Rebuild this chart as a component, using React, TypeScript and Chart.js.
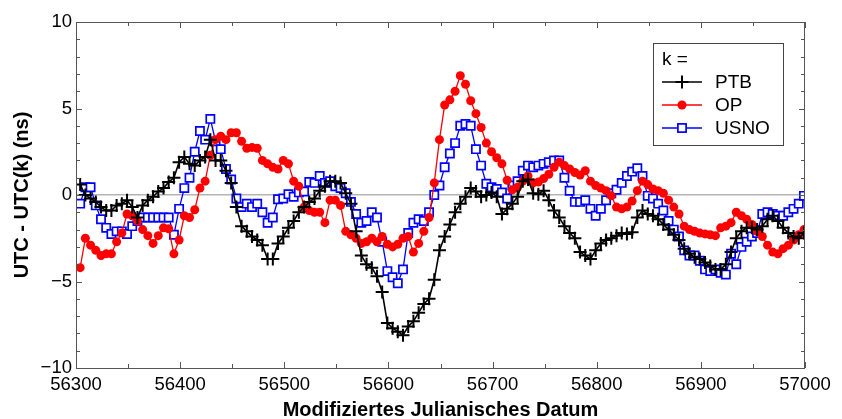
import React, { useEffect, useRef } from 'react';
import { Chart, registerables } from 'chart.js';

Chart.register(...registerables);

// ---- data (MJD grid: first sample day, spacing in days) ----
const FIRST_DAY = 56304;
const DAY_STEP = 5;

const ptbValues = [
  0.6, 0.0, -0.2, -0.4, -0.7, -0.9, -0.9, -0.6, -0.5, -0.3,
  -0.7, -1.3, -0.6, -0.3, -0.1, 0.2, 0.4, 0.75, 1.0, 1.9,
  2.2, 1.8, 1.7, 2.0, 2.2, 3.2, 2.0, 2.0, 1.4, 0.7,
  -0.7, -1.8, -2.1, -2.4, -2.6, -2.9, -3.7, -3.7, -2.8, -2.4,
  -1.9, -1.5, -1.0, -0.7, -0.4, -0.2, 0.25, 0.5, 0.8, 0.8,
  0.7, 0.1, -0.5, -2.1, -3.5, -4.0, -4.2, -4.7, -5.6, -7.4,
  -7.7, -7.9, -8.1, -7.6, -7.3, -6.8, -6.3, -6.0, -4.9, -3.2,
  -2.4, -1.7, -1.0, -0.5, -0.1, 0.4, 0.2, -0.1, 0.0, 0.15,
  -0.1, -1.1, -0.8, -0.5, -0.1, 0.8, 0.9, 0.1, 0.05, 0.25,
  -0.3, -0.9, -1.3, -1.8, -2.2, -2.5, -3.3, -3.5, -3.7, -3.2,
  -2.8, -2.6, -2.5, -2.35, -2.2, -2.25, -2.15, -1.3, -0.9, -1.1,
  -1.2, -1.4, -1.7, -2.0, -2.3, -2.6, -3.1, -3.4, -3.6, -3.7,
  -3.9, -4.1, -4.3, -4.3, -4.0, -3.3, -2.5, -2.1, -1.9, -1.9,
  -2.0, -1.8, -1.4, -1.2, -1.5, -1.9, -2.2, -2.4, -2.5, -2.2,
];

const opValues = [
  -4.2, -2.5, -2.9, -3.2, -3.5, -3.4, -3.4, -2.7, -2.2, -1.1,
  -1.2, -1.5, -2.0, -2.35, -2.8, -2.35, -1.9, -1.95, -3.4, -2.6,
  -1.2, -1.3, -0.85, 0.4, 0.8, 2.3, 3.2, 3.4, 3.2, 3.6,
  3.6, 3.1, 2.7, 2.75, 2.7, 2.0, 1.8, 1.6, 1.5, 2.0,
  1.8, 0.8, 0.5, -0.7, -0.9, -1.0, -1.0, -1.6, -0.3, -0.3,
  -0.6, -2.1, -2.3, -2.5, -2.8, -2.7, -2.5, -2.7, -2.4, -2.85,
  -3.0, -2.85, -2.5, -2.4, -3.3, -2.8, -2.1, -1.3, 0.7, 3.2,
  5.2, 5.5, 6.0, 6.9, 6.4, 5.45, 4.7, 3.9, 3.0, 2.5,
  2.15, 1.8, 0.85, 0.3, 0.45, 0.8, 1.1, 0.7, 0.75, 0.95,
  1.2, 1.6, 1.9, 1.7, 1.5, 1.3, 1.15, 1.4, 0.8, 0.55,
  0.4, 0.25, -0.05, -0.7, -0.8, -0.7, -0.35, 0.25, 0.8, 0.6,
  0.35, 0.25, 0.1, -0.3, -0.7, -1.1, -1.8, -2.0, -2.1, -2.2,
  -2.25, -2.3, -2.35, -1.9, -1.8, -1.6, -1.0, -1.2, -1.4, -1.7,
  -2.1, -2.4, -2.9, -3.3, -3.4, -3.1, -2.9, -2.6, -2.3, -2.0,
];

const usnoValues = [
  -0.5, 0.45, 0.45, -0.6, -1.4, -1.9, -2.25, -2.1, -2.1, -2.25,
  -1.8, -1.5, -1.3, -1.3, -1.3, -1.3, -1.3, -1.3, -2.3, -0.8,
  0.4, 1.0, 2.5, 3.7, 3.2, 4.4, 3.1, 2.65, 1.5, 0.9,
  -0.2, -0.7, -0.5, -0.7, -0.5, -1.0, -1.6, -1.3, -0.25, -0.2,
  0.05, -0.1, 0.15, 0.2, 0.75, 0.7, 1.1, 0.7, 0.8, 0.5,
  0.4, 0.1, -0.4, -1.1, -1.6, -1.5, -1.0, -1.3, -2.7, -4.4,
  -4.75, -5.1, -4.3, -2.2, -1.6, -1.4, -1.5, -1.0, 0.0, 0.55,
  1.6, 2.4, 3.0, 4.0, 4.1, 4.0, 2.65, 1.7, 0.65, 0.45,
  0.35, 0.15, -0.2, 0.55, 0.8, 1.4, 1.7, 1.6, 1.7, 1.8,
  1.9, 2.0, 2.0, 1.0, 0.25, -0.4, -0.4, -0.3, -0.8, -1.2,
  -0.8, -0.3, 0.1, 0.3, 0.7, 1.1, 1.35, 1.55, 1.1, -0.05,
  -0.2, -0.5, -0.9, -1.5, -2.0, -2.4, -3.2, -3.5, -3.5, -3.8,
  -4.3, -4.4, -4.3, -4.5, -4.6, -3.4, -4.0, -3.0, -2.7, -2.4,
  -2.2, -1.1, -1.0, -1.1, -1.2, -1.2, -1.0, -0.8, -0.5, -0.05,
];

const days = ptbValues.map((_, i) => FIRST_DAY + i * DAY_STEP);

const seriesNames = ['PTB', 'OP', 'USNO'];
const legendTitle = 'k =';
const xAxisTitle = 'Modifiziertes Julianisches Datum';
const yAxisTitle = 'UTC - UTC(k) (ns)';
const xRange = [56300, 57000];
const yRange = [-10, 10];

const FONT = 'Arial, "Liberation Sans", sans-serif';

const toPoints = (vals: number[]) => vals.map((v, i) => ({ x: days[i], y: v }));

const framePlugin = {
  id: 'frameTicksLegend',
  afterDraw(chart: any) {
    const ctx = chart.ctx;
    const { left, right, top, bottom } = chart.chartArea;
    const xs = chart.scales.x;
    const ys = chart.scales.y;
    ctx.save();
    ctx.strokeStyle = '#555';
    ctx.lineWidth = 1;
    ctx.strokeRect(left + 0.5, top + 0.5, right - left - 1, bottom - top);
    ctx.beginPath();
    for (let v = xRange[0]; v <= xRange[1]; v += 50) {
      const px = Math.round(xs.getPixelForValue(v)) + 0.5;
      const len = v % 100 === 0 ? 6 : 4;
      ctx.moveTo(px, bottom);
      ctx.lineTo(px, bottom - len);
      ctx.moveTo(px, top);
      ctx.lineTo(px, top + len);
    }
    for (let v = yRange[0]; v <= yRange[1]; v += 1) {
      const py = Math.round(ys.getPixelForValue(v)) + 0.5;
      const len = v % 5 === 0 ? 6 : 4;
      ctx.moveTo(left, py);
      ctx.lineTo(left + len, py);
      ctx.moveTo(right, py);
      ctx.lineTo(right - len, py);
    }
    ctx.stroke();

    // legend box
    const bw = 130;
    const bh = 102;
    const bx = right - 22 - bw;
    const by = top + 21;
    ctx.fillStyle = '#fff';
    ctx.fillRect(bx, by, bw, bh);
    ctx.strokeStyle = '#444';
    ctx.lineWidth = 1;
    ctx.strokeRect(bx + 0.5, by + 0.5, bw, bh);
    ctx.fillStyle = '#000';
    ctx.font = `19px ${FONT}`;
    ctx.textBaseline = 'middle';
    ctx.textAlign = 'left';
    ctx.fillText(legendTitle, bx + 9, by + 17);
    chart.data.datasets.forEach((ds: any, i: number) => {
      const y = by + 39 + i * 23;
      const x0 = bx + 9;
      const x1 = bx + 49;
      const cx = bx + 29;
      ctx.strokeStyle = ds.borderColor;
      ctx.lineWidth = ds.borderWidth;
      ctx.beginPath();
      ctx.moveTo(x0, y);
      ctx.lineTo(x1, y);
      ctx.stroke();
      const r = ds.pointRadius;
      ctx.lineWidth = ds.pointBorderWidth;
      if (ds.pointStyle === 'cross') {
        ctx.beginPath();
        ctx.moveTo(cx - r, y);
        ctx.lineTo(cx + r, y);
        ctx.moveTo(cx, y - r);
        ctx.lineTo(cx, y + r);
        ctx.stroke();
      } else if (ds.pointStyle === 'circle') {
        ctx.fillStyle = ds.pointBackgroundColor;
        ctx.beginPath();
        ctx.arc(cx, y, r, 0, Math.PI * 2);
        ctx.fill();
      } else {
        const s = r * Math.SQRT1_2;
        ctx.fillStyle = ds.pointBackgroundColor;
        ctx.fillRect(cx - s, y - s, 2 * s, 2 * s);
        ctx.strokeRect(cx - s, y - s, 2 * s, 2 * s);
      }
      ctx.fillStyle = '#000';
      ctx.fillText(ds.label, bx + 62, y + 1);
    });
    ctx.restore();
  },
};

export default function App() {
  const canvasRef = useRef<HTMLCanvasElement | null>(null);

  useEffect(() => {
    document.body.style.margin = '0';
    const canvas = canvasRef.current;
    if (!canvas) return;
    const chart = new Chart(canvas, {
      type: 'line',
      data: {
        datasets: [
          {
            label: seriesNames[0],
            data: toPoints(ptbValues),
            borderColor: '#000000',
            backgroundColor: '#000000',
            borderWidth: 1.6,
            pointStyle: 'cross',
            pointRadius: 6.5,
            pointBorderWidth: 2,
            pointBorderColor: '#000000',
            pointBackgroundColor: '#000000',
            tension: 0,
          },
          {
            label: seriesNames[1],
            data: toPoints(opValues),
            borderColor: '#ff0000',
            backgroundColor: '#ff0000',
            borderWidth: 1.3,
            pointStyle: 'circle',
            pointRadius: 4.5,
            pointBorderWidth: 0,
            pointBorderColor: '#ff0000',
            pointBackgroundColor: '#ff0000',
            tension: 0,
          },
          {
            label: seriesNames[2],
            data: toPoints(usnoValues),
            borderColor: '#0000ff',
            backgroundColor: '#ffffff',
            borderWidth: 1.3,
            pointStyle: 'rect',
            pointRadius: 5.8,
            pointBorderWidth: 1.7,
            pointBorderColor: '#0000ff',
            pointBackgroundColor: '#ffffff',
            tension: 0,
          },
        ],
      } as any,
      options: {
        animation: false,
        responsive: false,
        devicePixelRatio: 1,
        layout: { padding: { left: 0, right: 37, top: 22, bottom: 0 } },
        plugins: {
          legend: { display: false },
          tooltip: { enabled: false },
        },
        scales: {
          x: {
            type: 'linear',
            min: xRange[0],
            max: xRange[1],
            afterFit: (s: any) => { s.height = 51; },
            grid: { display: false, drawTicks: false },
            border: { display: false },
            ticks: {
              stepSize: 100,
              autoSkip: false,
              maxRotation: 0,
              padding: 6,
              color: '#000',
              font: { family: FONT, size: 18.5 },
              callback: (v: any) => String(v),
            },
            title: {
              display: true,
              text: xAxisTitle,
              color: '#000',
              font: { family: FONT, size: 20, weight: 'bold' },
              padding: { top: 0, bottom: -3 },
            },
          },
          y: {
            type: 'linear',
            min: yRange[0],
            max: yRange[1],
            afterFit: (s: any) => { s.width = 76; },
            grid: {
              drawTicks: false,
              color: (c: any) => (c.tick && c.tick.value === 0 ? '#b4b4b4' : 'rgba(0,0,0,0)'),
              lineWidth: 1.6,
            },
            border: { display: false },
            ticks: {
              stepSize: 5,
              padding: 4,
              color: '#000',
              font: { family: FONT, size: 18.5 },
              callback: (v: any) => (Number(v) < 0 ? '\u2212' + Math.abs(Number(v)) : String(v)),
            },
            title: {
              display: true,
              text: yAxisTitle,
              color: '#000',
              font: { family: FONT, size: 20, weight: 'bold' },
              padding: { top: 10, bottom: 0 },
            },
          },
        },
      } as any,
      plugins: [framePlugin],
    });
    return () => chart.destroy();
  }, []);

  return (
    <div style={{ width: 842, height: 419, background: '#fff' }}>
      <canvas ref={canvasRef} width={842} height={419} style={{ display: 'block' }} />
    </div>
  );
}
